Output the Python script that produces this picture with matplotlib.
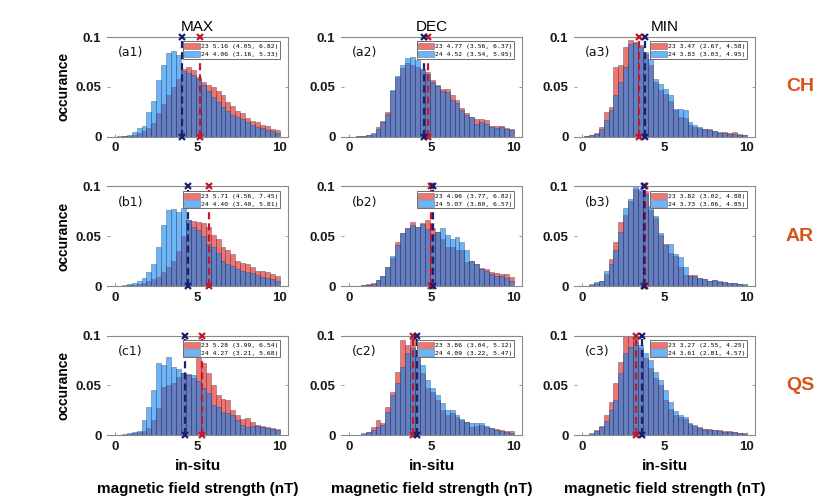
import numpy as np
import matplotlib
matplotlib.use("Agg")
import matplotlib.pyplot as plt

plt.rcParams['font.family'] = ['Liberation Sans', 'DejaVu Sans']

# ---------------- data ----------------
bin_edges = np.round(0.1 + 0.3 * np.arange(34), 2)   # 33 bins, width 0.3 nT

regions = ['CH', 'AR', 'QS']
phases = ['MAX', 'DEC', 'MIN']
panel_labels = [['(a1)', '(a2)', '(a3)'],
                ['(b1)', '(b2)', '(b3)'],
                ['(c1)', '(c2)', '(c3)']]

# occurrence per bin, cycle 23 (red) and cycle 24 (blue)
ch_max_23 = [0, 0.0005, 0.001, 0.002, 0.004, 0.006, 0.009, 0.014, 0.024, 0.033, 0.042, 0.05, 0.058,
             0.068, 0.07, 0.067, 0.06, 0.055, 0.052, 0.05, 0.046, 0.042, 0.035, 0.031, 0.026, 0.024,
             0.019, 0.016, 0.015, 0.012, 0.011, 0.008, 0.007]
ch_max_24 = [0.0005, 0.001, 0.002, 0.005, 0.009, 0.011, 0.025, 0.036, 0.057, 0.072, 0.084, 0.086, 0.082,
             0.066, 0.064, 0.062, 0.058, 0.052, 0.046, 0.040, 0.035, 0.030, 0.026, 0.022, 0.020, 0.018,
             0.015, 0.012, 0.010, 0.009, 0.007, 0.006, 0.004]
ch_dec_23 = [0, 0.0005, 0.001, 0.002, 0.003, 0.01, 0.016, 0.025, 0.046, 0.06, 0.069, 0.074, 0.072,
             0.07, 0.067, 0.065, 0.057, 0.052, 0.048, 0.048, 0.042, 0.037, 0.029, 0.024, 0.02, 0.018,
             0.018, 0.017, 0.011, 0.011, 0.011, 0.009, 0.008]
ch_dec_24 = [0, 0.0005, 0.001, 0.002, 0.004, 0.008, 0.015, 0.023, 0.047, 0.061, 0.072, 0.079, 0.08,
             0.077, 0.068, 0.063, 0.055, 0.051, 0.046, 0.045, 0.037, 0.034, 0.027, 0.022, 0.02, 0.013,
             0.015, 0.013, 0.01, 0.009, 0.01, 0.008, 0.007]
ch_min_23 = [0.0005, 0.002, 0.004, 0.01, 0.025, 0.03, 0.07, 0.072, 0.09, 0.097, 0.095, 0.092, 0.083,
             0.072, 0.055, 0.047, 0.043, 0.036, 0.027, 0.02, 0.019, 0.012, 0.01, 0.009, 0.008, 0.008,
             0.006, 0.005, 0.005, 0.004, 0.005, 0.003, 0.002]
ch_min_24 = [0.0003, 0.002, 0.003, 0.008, 0.017, 0.027, 0.042, 0.055, 0.07, 0.093, 0.094, 0.09, 0.085,
             0.078, 0.058, 0.053, 0.048, 0.042, 0.028, 0.028, 0.027, 0.015, 0.012, 0.01, 0.008, 0.007,
             0.006, 0.004, 0.004, 0.003, 0.003, 0.002, 0.002]

ar_max_23 = [0, 0.0003, 0.001, 0.001, 0.002, 0.003, 0.005, 0.007, 0.009, 0.014, 0.019, 0.025, 0.035,
             0.05, 0.066, 0.065, 0.064, 0.063, 0.059, 0.051, 0.047, 0.039, 0.036, 0.032, 0.025, 0.023,
             0.022, 0.019, 0.015, 0.015, 0.014, 0.012, 0.01]
ar_max_24 = [0.0003, 0.001, 0.002, 0.003, 0.005, 0.008, 0.014, 0.022, 0.039, 0.061, 0.076, 0.077, 0.074,
             0.078, 0.066, 0.059, 0.056, 0.05, 0.042, 0.039, 0.033, 0.025, 0.022, 0.02, 0.017, 0.015,
             0.014, 0.013, 0.011, 0.009, 0.008, 0.007, 0.005]
ar_dec_23 = [0, 0.0003, 0.001, 0.002, 0.003, 0.006, 0.01, 0.019, 0.028, 0.044, 0.053, 0.058, 0.064,
             0.059, 0.063, 0.066, 0.058, 0.054, 0.047, 0.039, 0.039, 0.036, 0.036, 0.024, 0.025, 0.022,
             0.018, 0.017, 0.014, 0.013, 0.012, 0.012, 0.009]
ar_dec_24 = [0, 0.0003, 0.001, 0.001, 0.002, 0.006, 0.01, 0.019, 0.03, 0.041, 0.053, 0.058, 0.061,
             0.059, 0.062, 0.057, 0.052, 0.054, 0.058, 0.051, 0.047, 0.049, 0.044, 0.036, 0.025, 0.022,
             0.017, 0.015, 0.012, 0.01, 0.01, 0.008, 0.005]
ar_min_23 = [0.0003, 0.001, 0.003, 0.005, 0.012, 0.027, 0.044, 0.064, 0.071, 0.085, 0.097, 0.095, 0.095,
             0.076, 0.068, 0.051, 0.042, 0.033, 0.03, 0.019, 0.011, 0.011, 0.011, 0.008, 0.007, 0.005,
             0.006, 0.005, 0.004, 0.003, 0.003, 0.002, 0.001]
ar_min_24 = [0.0003, 0.002, 0.004, 0.005, 0.015, 0.022, 0.036, 0.054, 0.078, 0.087, 0.1, 0.097, 0.092,
             0.08, 0.07, 0.053, 0.041, 0.042, 0.032, 0.029, 0.019, 0.01, 0.01, 0.008, 0.007, 0.005,
             0.006, 0.004, 0.004, 0.003, 0.003, 0.002, 0.002]

qs_max_23 = [0, 0.0005, 0.001, 0.002, 0.003, 0.004, 0.007, 0.015, 0.027, 0.048, 0.05, 0.052, 0.058,
             0.062, 0.061, 0.057, 0.077, 0.072, 0.062, 0.05, 0.04, 0.036, 0.035, 0.025, 0.02, 0.016,
             0.017, 0.013, 0.01, 0.009, 0.008, 0.007, 0.006]
qs_max_24 = [0.0003, 0.001, 0.002, 0.003, 0.004, 0.015, 0.028, 0.045, 0.072, 0.07, 0.078, 0.068, 0.066,
             0.062, 0.06, 0.06, 0.054, 0.047, 0.042, 0.03, 0.028, 0.023, 0.022, 0.02, 0.015, 0.01,
             0.008, 0.009, 0.009, 0.008, 0.007, 0.006, 0.005]
qs_dec_23 = [0, 0.0003, 0.001, 0.003, 0.008, 0.015, 0.012, 0.028, 0.043, 0.063, 0.095, 0.09, 0.097,
             0.08, 0.062, 0.047, 0.043, 0.035, 0.025, 0.02, 0.022, 0.018, 0.015, 0.013, 0.008, 0.009,
             0.01, 0.008, 0.007, 0.006, 0.005, 0.004, 0.004]
qs_dec_24 = [0, 0.0005, 0.002, 0.003, 0.005, 0.008, 0.01, 0.023, 0.04, 0.052, 0.068, 0.082, 0.087,
             0.085, 0.07, 0.055, 0.047, 0.04, 0.032, 0.025, 0.025, 0.02, 0.016, 0.013, 0.012, 0.012,
             0.012, 0.009, 0.007, 0.005, 0.004, 0.003, 0.002]
qs_min_23 = [0.0003, 0.001, 0.005, 0.009, 0.02, 0.033, 0.052, 0.073, 0.1, 0.1, 0.097, 0.087, 0.077,
             0.067, 0.057, 0.05, 0.035, 0.026, 0.02, 0.018, 0.016, 0.011, 0.009, 0.008, 0.006, 0.006,
             0.005, 0.005, 0.004, 0.004, 0.003, 0.002, 0.002]
qs_min_24 = [0.0003, 0.002, 0.004, 0.008, 0.014, 0.025, 0.035, 0.062, 0.082, 0.088, 0.093, 0.09, 0.082,
             0.075, 0.063, 0.055, 0.045, 0.033, 0.024, 0.02, 0.018, 0.012, 0.01, 0.007, 0.006, 0.005,
             0.005, 0.004, 0.003, 0.003, 0.003, 0.002, 0.001]

# medians and (lower, upper) quartiles; rows CH, AR, QS ; columns MAX, DEC, MIN
med_23 = [[5.16, 4.77, 3.47], [5.71, 4.96, 3.82], [5.28, 3.86, 3.27]]
lo_23 = [[4.05, 3.56, 2.67], [4.56, 3.77, 3.02], [3.99, 3.04, 2.55]]
hi_23 = [[6.82, 6.37, 4.58], [7.45, 6.82, 4.88], [6.54, 5.12, 4.25]]
med_24 = [[4.06, 4.52, 3.83], [4.40, 5.07, 3.73], [4.27, 4.09, 3.61]]
lo_24 = [[3.16, 3.54, 3.03], [3.40, 3.80, 3.06], [3.21, 3.22, 2.81]]
hi_24 = [[5.33, 5.95, 4.95], [5.81, 6.57, 4.85], [5.68, 5.47, 4.57]]

hist_23 = [[ch_max_23, ch_dec_23, ch_min_23], [ar_max_23, ar_dec_23, ar_min_23], [qs_max_23, qs_dec_23, qs_min_23]]
hist_24 = [[ch_max_24, ch_dec_24, ch_min_24], [ar_max_24, ar_dec_24, ar_min_24], [qs_max_24, qs_dec_24, qs_min_24]]

# ---------------- styling ----------------
W, H = 830, 498
fig = plt.figure(figsize=(W / 100, H / 100), dpi=100)

col_left = [107, 341, 574]
ax_w = 181
row_top = [37, 186.5, 335.5]
ax_h = 99.5

red_face = (0.90, 0.10, 0.05)
blue_face = (0.045, 0.52, 0.95)
red_line = '#C21A2A'
blue_line = '#1B1F72'
edge_col = (0.18, 0.18, 0.34)
spine_col = '#8a8a8a'
row_col = '#D95319'

widths = np.diff(bin_edges)
lefts = bin_edges[:-1]

for r in range(3):
    for c in range(3):
        ax = fig.add_axes([col_left[c] / W, 1 - (row_top[r] + ax_h) / H, ax_w / W, ax_h / H])
        b23 = ax.bar(lefts, hist_23[r][c], width=widths, align='edge', color=red_face,
                     alpha=0.6, edgecolor=edge_col, linewidth=0.4,
                     label=f"23 {med_23[r][c]:.2f} ({lo_23[r][c]:.2f}, {hi_23[r][c]:.2f})")
        b24 = ax.bar(lefts, hist_24[r][c], width=widths, align='edge', color=blue_face,
                     alpha=0.6, edgecolor=edge_col, linewidth=0.4,
                     label=f"24 {med_24[r][c]:.2f} ({lo_24[r][c]:.2f}, {hi_24[r][c]:.2f})")
        for m, lc in ((med_23[r][c], red_line), (med_24[r][c], blue_line)):
            ax.plot([m, m], [0, 0.1], color=lc, lw=1.6, ls=(0, (3.2, 1.8)), zorder=4)
            ax.plot([m, m], [0, 0.1], ls='none', marker='x', ms=5, mew=1.6, color=lc,
                    clip_on=False, zorder=5)
        ax.set_xlim(-0.5, 10.5)
        ax.set_ylim(0, 0.1)
        ax.set_xticks([0, 5, 10])
        ax.set_xticklabels(['0', '5', '10'])
        ax.set_yticks([0, 0.05, 0.1])
        ax.set_yticklabels(['0', '0.05', '0.1'])
        ax.tick_params(direction='in', length=2.5, width=0.6, color=spine_col,
                       labelsize=9.5, pad=4, right=True, top=False)
        for lab in ax.get_xticklabels() + ax.get_yticklabels():
            lab.set_fontweight('bold')
            lab.set_color('#1a1a1a')
        ax.spines['left'].set_visible(False)
        for s in ('top', 'right', 'bottom'):
            ax.spines[s].set_color(spine_col)
            ax.spines[s].set_linewidth(0.8)
        ax.text(0.06, 0.84, panel_labels[r][c], transform=ax.transAxes, fontsize=9,
                family='DejaVu Sans', ha='left', va='center', color='#111111')
        leg = ax.legend(handles=[b23, b24], loc='upper right', bbox_to_anchor=(0.958, 0.955),
                        borderaxespad=0, prop={'family': 'DejaVu Sans Mono', 'size': 4.6},
                        handlelength=2.4, handleheight=1.1, handletextpad=0.25,
                        labelspacing=0.25, borderpad=0.25, fancybox=False,
                        framealpha=1, edgecolor='#555555')
        leg.get_frame().set_linewidth(0.6)
        leg.set_zorder(6)
        if c == 0:
            ax.set_ylabel('occurance', fontsize=10, fontweight='bold', labelpad=4)

# column titles
for c in range(3):
    xc = (col_left[c] + ax_w / 2) / W
    fig.text(xc, 1 - 27 / H, phases[c], ha='center', va='center', fontsize=11)
    fig.text(xc, 1 - 466 / H, 'in-situ', ha='center', va='center', fontsize=11, fontweight='bold')
    fig.text(xc, 1 - 489 / H, 'magnetic field strength (nT)', ha='center', va='center',
             fontsize=11, fontweight='bold')

# row labels
for r in range(3):
    yc = 1 - (row_top[r] + ax_h / 2) / H
    fig.text(800 / W, yc, regions[r], ha='center', va='center', fontsize=14,
             fontweight='bold', color=row_col)

fig.savefig('out.png', dpi=100)
